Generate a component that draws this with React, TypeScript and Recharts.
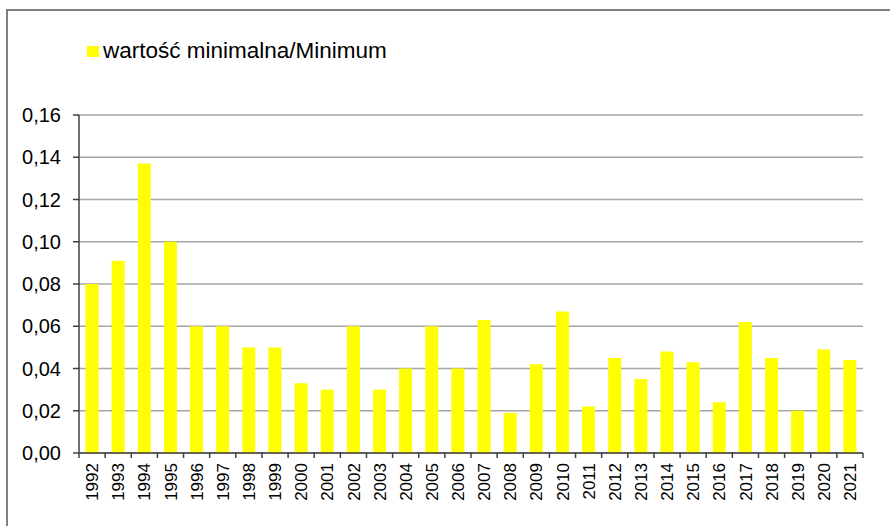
import React from 'react';
import { BarChart, Bar, XAxis, YAxis, CartesianGrid } from 'recharts';

const years = [
  '1992', '1993', '1994', '1995', '1996', '1997', '1998', '1999', '2000', '2001',
  '2002', '2003', '2004', '2005', '2006', '2007', '2008', '2009', '2010', '2011',
  '2012', '2013', '2014', '2015', '2016', '2017', '2018', '2019', '2020', '2021',
];

const minimum = [
  0.08, 0.091, 0.137, 0.1, 0.06, 0.06, 0.05, 0.05, 0.033, 0.03,
  0.06, 0.03, 0.04, 0.06, 0.04, 0.063, 0.019, 0.042, 0.067, 0.022,
  0.045, 0.035, 0.048, 0.043, 0.024, 0.062, 0.045, 0.02, 0.049, 0.044,
];

const yTicks = [0, 0.02, 0.04, 0.06, 0.08, 0.1, 0.12, 0.14, 0.16];

const legendLabel = 'wartość minimalna/Minimum';

const data = years.map((year, i) => ({ year, value: minimum[i] }));

const font = '"Liberation Sans", Arial, sans-serif';
const axisColor = '#404040';
const gridColor = '#a6a6a6';
const barColor = '#ffff00';

// x labels rotated, with tick marks on the category boundaries
const YearTick = (props: any) => {
  const { x, y, payload, index } = props;
  const half = payload && payload.offset ? payload.offset : 13;
  const last = index === years.length - 1;
  return (
    <g>
      <line x1={x - half} x2={x - half} y1={y} y2={y + 5} stroke={axisColor} strokeWidth={1.5} />
      {last && <line x1={x + half} x2={x + half} y1={y} y2={y + 5} stroke={axisColor} strokeWidth={1.5} />}
      <text
        x={x}
        y={y + 10}
        dy="0.36em"
        textAnchor="end"
        transform={`rotate(-90, ${x}, ${y + 10})`}
        fill="#000"
        fontSize={17}
        fontFamily={font}
      >
        {payload.value}
      </text>
    </g>
  );
};

export default function App() {
  return (
    <div style={{ position: 'absolute', left: 0, top: 0, width: 890, height: 526, background: '#fff', fontFamily: font }}>
      <div
        style={{
          position: 'absolute', left: 6, top: 9, right: 0, bottom: 0,
          borderTop: '2px solid #808080', borderLeft: '2px solid #808080',
        }}
      />
      <div style={{ position: 'absolute', left: 87, top: 38, display: 'flex', alignItems: 'center', fontSize: 22.5, color: '#000', lineHeight: '26px' }}>
        <span style={{ display: 'inline-block', width: 12, height: 11, background: barColor, marginRight: 4 }} />
        <span>{legendLabel}</span>
      </div>
      <div style={{ position: 'absolute', left: 0, top: 0 }}>
        <BarChart
          width={890}
          height={526}
          data={data}
          margin={{ top: 115, right: 27, bottom: 0, left: 0 }}
          barCategoryGap="25%"
        >
          <CartesianGrid vertical={false} stroke={gridColor} strokeWidth={1.5} />
          <XAxis
            dataKey="year"
            interval={0}
            height={73}
            tickLine={false}
            tickSize={0}
            tickMargin={0}
            axisLine={{ stroke: axisColor, strokeWidth: 1.5 }}
            tick={<YearTick />}
          />
          <YAxis
            width={79}
            domain={[0, 0.16]}
            ticks={yTicks}
            interval={0}
            tickSize={6}
            tickMargin={12}
            axisLine={{ stroke: axisColor, strokeWidth: 1.5 }}
            tickLine={{ stroke: axisColor, strokeWidth: 1.5 }}
            tick={{ fill: '#000', fontSize: 20, fontFamily: font }}
            tickFormatter={(v: number) => v.toFixed(2).replace('.', ',')}
          />
          <Bar dataKey="value" fill={barColor} isAnimationActive={false} />
        </BarChart>
      </div>
    </div>
  );
}
